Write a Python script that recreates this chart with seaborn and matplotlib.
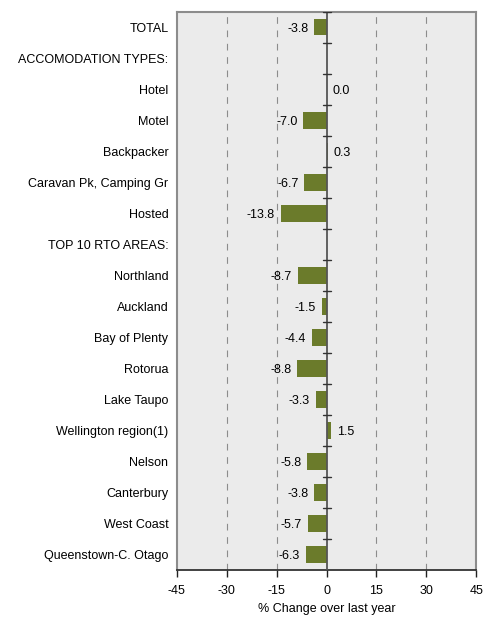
import numpy as np
import pandas as pd
import seaborn as sns
import matplotlib.pyplot as plt

categories = ['TOTAL', 'ACCOMODATION TYPES:', 'Hotel', 'Motel', 'Backpacker',
              'Caravan Pk, Camping Gr', 'Hosted', 'TOP 10 RTO AREAS:',
              'Northland', 'Auckland', 'Bay of Plenty', 'Rotorua', 'Lake Taupo',
              'Wellington region(1)', 'Nelson', 'Canterbury', 'West Coast',
              'Queenstown-C. Otago']
changes = [-3.8, np.nan, 0.0, -7.0, 0.3, -6.7, -13.8, np.nan,
           -8.7, -1.5, -4.4, -8.8, -3.3, 1.5, -5.8, -3.8, -5.7, -6.3]
x_ticks = [-45, -30, -15, 0, 15, 30, 45]

df = pd.DataFrame({'category': categories, 'change': changes})

sns.set_style('white')
plt.rcParams['font.family'] = ['Liberation Sans', 'DejaVu Sans']
plt.rcParams['text.color'] = 'black'
plt.rcParams['xtick.labelcolor'] = 'black'
plt.rcParams['ytick.labelcolor'] = 'black'
plt.rcParams['axes.labelcolor'] = 'black'

fig = plt.figure(figsize=(4.83, 6.19), dpi=100)
ax = fig.add_axes([0.366, 0.079, 0.62, 0.902])
ax.set_facecolor('#EBEBEB')

sns.barplot(data=df, y='category', x='change', order=categories, orient='h',
            color='#6B7B2B', saturation=1, width=0.53, errorbar=None,
            linewidth=0, ax=ax)

# dashed grid lines
for t in x_ticks[1:-1]:
    if t != 0:
        ax.axvline(t, color='#8C8C8C', linestyle=(0, (6, 6)), linewidth=0.8, zorder=0)
ax.axvline(0, color='#555555', linewidth=1.3, zorder=3)

# small ticks on the zero line at category boundaries
n = len(categories)
for i in range(n):
    ax.plot([-1.2, 1.2], [i - 0.5, i - 0.5], color='#333333', linewidth=1, zorder=4)

# value labels
for i, v in enumerate(changes):
    if np.isnan(v):
        continue
    if v >= 0:
        ax.annotate(f'{v:.1f}', (v, i), xytext=(4, 0), textcoords='offset points',
                    ha='left', va='center_baseline', fontsize=9)
    else:
        ax.annotate(f'{v:.1f}', (v, i), xytext=(-4, 0), textcoords='offset points',
                    ha='right', va='center_baseline', fontsize=9)

ax.set_xlim(-45, 45)
ax.set_ylim(n - 0.5, -0.5)
ax.set_xticks(x_ticks)
ax.set_xticklabels([str(t) for t in x_ticks], fontsize=9)
ax.tick_params(axis='x', bottom=True, direction='out', length=5, width=1,
               color='#222222', pad=6)
ax.tick_params(axis='y', length=0, pad=6, labelsize=9)
ax.set_ylabel('')
ax.set_xlabel('% Change over last year', fontsize=9, labelpad=4)

for side in ['top', 'left', 'right']:
    ax.spines[side].set_color('#8C8C8C')
    ax.spines[side].set_linewidth(1.5)
    ax.spines[side].set_visible(True)
ax.spines['bottom'].set_color('#333333')
ax.spines['bottom'].set_linewidth(1.3)
ax.spines['bottom'].set_visible(True)

fig.savefig('out.png', dpi=100)
